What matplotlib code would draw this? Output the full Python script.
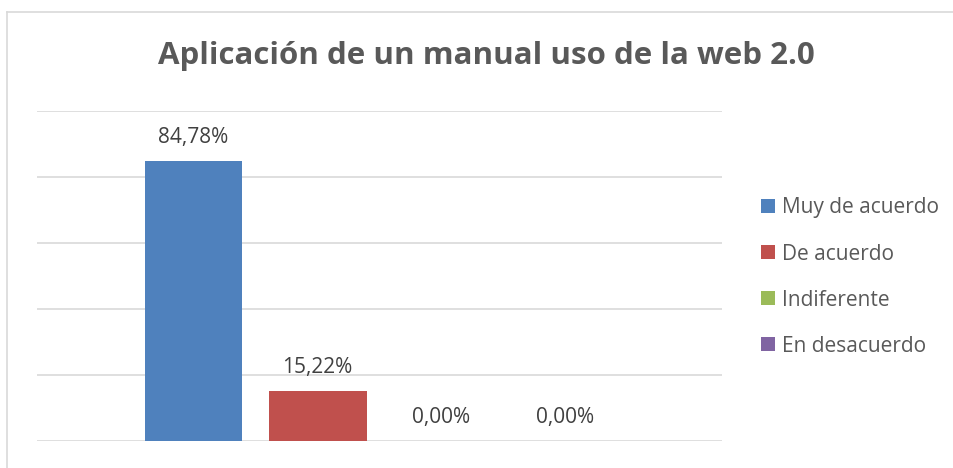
import matplotlib.pyplot as plt
from matplotlib.lines import Line2D
from matplotlib.patches import Patch

# data
series = ["Muy de acuerdo", "De acuerdo", "Indiferente", "En desacuerdo"]
values = [0.8478, 0.1522, 0.0, 0.0]
labels = ["84,78%", "15,22%", "0,00%", "0,00%"]
colors = ["#4F81BD", "#C0504D", "#9BBB59", "#8064A2"]
yticks = [0.0, 0.2, 0.4, 0.6, 0.8, 1.0]

W, H = 954, 468
fig = plt.figure(figsize=(W / 100, H / 100), dpi=100)
plt.rcParams["font.family"] = ["Open Sans", "DejaVu Sans"]

# plot area in pixels: x 37..722, y 110.7..441.3
ax = fig.add_axes([37 / W, (H - 441.3) / H, (722 - 37) / W, (441.3 - 110.7) / H])
pos = [i - (len(series) - 1) / 2 for i in range(len(series))]
half = (722 - 37) / 124 / 2
ax.set_xlim(-half, half)
ax.set_ylim(0, 1.0)
ax.set_yticks(yticks)
ax.grid(axis="y", color="#D9D9D9", lw=1.2)
ax.set_axisbelow(True)
for s in ax.spines.values():
    s.set_visible(False)
ax.tick_params(left=False, bottom=False, labelleft=False, labelbottom=False)

for p, v, lab, c in zip(pos, values, labels, colors):
    ax.bar(p, v, width=98 / 124, color=c, zorder=3)
    ax.annotate(lab, (p, v), xytext=(0, 17), textcoords="offset points",
                ha="center", va="center", fontsize=15, color="#404040")

# title
fig.text((160 + 812) / 2 / W, 1 - 56 / H, "Aplicación de un manual uso de la web 2.0",
         ha="center", va="center", fontsize=22.5, fontweight="bold", color="#595959")

# legend
handles = [Patch(facecolor=c, edgecolor="none") for c in colors]
fig.legend(handles, series, loc="center left", bbox_to_anchor=(751 / W, 1 - 277 / H),
           frameon=False, fontsize=15, labelcolor="#595959", handlelength=0.65,
           handleheight=0.65, handletextpad=0.35, labelspacing=1.2, borderpad=0)

# outer chart border (cut at right and bottom)
fig.add_artist(Line2D([7.5 / W, 7.5 / W], [0, 1 - 12 / H], color="#D9D9D9", lw=1.2))
fig.add_artist(Line2D([7.5 / W, 1], [1 - 12 / H, 1 - 12 / H], color="#D9D9D9", lw=1.2))

fig.savefig("out.png", dpi=100)
